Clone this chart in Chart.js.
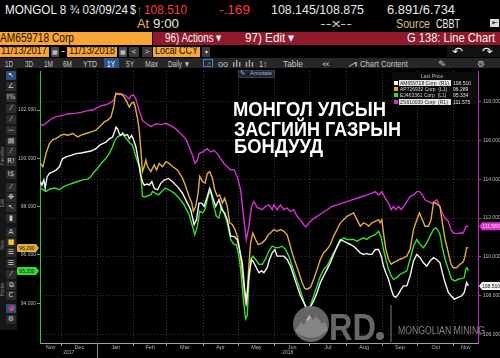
<!DOCTYPE html>
<html><head><meta charset="utf-8">
<script src="https://cdn.jsdelivr.net/npm/chart.js@4.4.1/dist/chart.umd.min.js"></script>
<style>
html,body{margin:0;padding:0;background:#000;width:500px;height:358px;overflow:hidden;font-family:"Liberation Sans",Arial,sans-serif;}
.a{position:absolute;}
.t{position:absolute;white-space:nowrap;line-height:1;transform-origin:0 0;display:inline-block;}
.box{position:absolute;}
.ic{position:absolute;left:6px;width:10px;height:9px;background:#2c2c2c;border-radius:1px;color:#ccc;font-size:7px;line-height:9px;text-align:center;font-family:"DejaVu Sans",sans-serif;overflow:hidden;}
.rot{position:absolute;left:0px;font-size:4.5px;color:#8a8a8a;transform:rotate(-90deg);transform-origin:0 0;white-space:nowrap;}
.lg{position:absolute;font-size:5px;line-height:6px;white-space:nowrap;}
</style></head><body>

<!-- header row 1 -->
<div class="t" style="left:5px;top:3.2px;font-size:13px;color:#f2f2f2" data-w="123">MONGOL 8 ¾ 03/09/24</div>
<div class="t" style="left:130px;top:3.2px;font-size:13px;color:#f2f2f2" data-w="6">$</div>
<div class="t" style="left:137px;top:3.2px;font-size:13px;color:#33d633" data-w="5">↑</div>
<div class="t" style="left:144px;top:3.2px;font-size:13px;color:#ff3b3b" data-w="43">108.510</div>
<div class="t" style="left:219px;top:3.2px;font-size:13px;color:#ff3b3b" data-w="31">-.169</div>
<div class="t" style="left:271px;top:3.2px;font-size:13px;color:#e8e8e8" data-w="93">108.145/108.875</div>
<div class="t" style="left:387px;top:3.2px;font-size:13px;color:#e8e8e8" data-w="68">6.891/6.734</div>
<!-- header row 2 -->
<div class="t" style="left:137px;top:17.7px;font-size:12.5px;color:#e6b45a" data-w="12">At</div>
<div class="t" style="left:153px;top:17.7px;font-size:12.5px;color:#ece6d2" data-w="26">9:00</div>
<div class="t" style="left:320px;top:17.6px;font-size:11px;color:#cfcfcf" data-w="32">--x--</div>
<div class="t" style="left:396px;top:17.7px;font-size:12.5px;color:#d9c07a" data-w="34">Source</div>
<div class="t" style="left:436px;top:17.7px;font-size:12.5px;color:#f0f0f0" data-w="24">CBBT</div>
<div class="box" style="left:490px;top:19px;width:9px;height:8px;background:#dcdcdc;color:#000;font-size:7px;line-height:8px;text-align:center">⇤</div>
<!-- row 3 -->
<div class="box" style="left:0;top:31.5px;width:152px;height:13.5px;background:#f7a535"></div>
<div class="t" style="left:0px;top:31.9px;font-size:12.5px;color:#1a0f00" data-w="74">AM659718 Corp</div>
<div class="box" style="left:153px;top:31.5px;width:347px;height:13.5px;background:#8e1a2c"></div>
<div class="t" style="left:165px;top:31.9px;font-size:12.5px;color:#f5f5f5" data-w="57">96) Actions ▾</div>
<div class="t" style="left:245px;top:31.9px;font-size:12.5px;color:#f5f5f5" data-w="50">97) Edit ▾</div>
<div class="t" style="left:407px;top:31.9px;font-size:12.5px;color:#f5f5f5" data-w="88">G 138: Line Chart</div>
<!-- row 4 -->
<div class="box" style="left:0;top:46.5px;width:49px;height:10px;background:#f7a535"></div>
<div class="t" style="left:1px;top:46.3px;font-size:10.2px;color:#1a0f00" data-w="46">11/13/2017</div>
<div class="box" style="left:51px;top:46.5px;width:8px;height:10px;background:#4a4a4a;color:#ddd;font-size:6px;line-height:10px;text-align:center">▦</div>
<div class="t" style="left:61px;top:46.3px;font-size:10.2px;color:#eee" data-w="4">-</div>
<div class="box" style="left:67px;top:46.5px;width:50px;height:10px;background:#f7a535"></div>
<div class="t" style="left:69px;top:46.3px;font-size:10.2px;color:#1a0f00" data-w="46">11/13/2018</div>
<div class="box" style="left:119px;top:46.5px;width:8px;height:10px;background:#4a4a4a;color:#ddd;font-size:6px;line-height:10px;text-align:center">▦</div>
<div class="box" style="left:129px;top:46.5px;width:10px;height:10px;background:#3a3a3a;color:#ddd;font-size:8px;line-height:10px;text-align:center">&lt;</div>
<div class="box" style="left:142px;top:46.5px;width:10px;height:10px;background:#3a3a3a;color:#ddd;font-size:8px;line-height:10px;text-align:center">&gt;</div>
<div class="box" style="left:153px;top:46.5px;width:47px;height:10px;background:#f7a535"></div>
<div class="t" style="left:155px;top:46.3px;font-size:10.2px;color:#1a0f00" data-w="43">Local CCY</div>
<div class="box" style="left:202px;top:46.5px;width:8px;height:10px;background:#3a3a3a;color:#ddd;font-size:6px;line-height:10px;text-align:center">▾</div>
<div class="box" style="left:447px;top:45.5px;width:53px;height:11px;background:#111"></div>
<div class="t" style="left:452px;top:45.5px;font-size:11px;color:#f0f0f0;font-family:'DejaVu Sans'" data-w="11">↶</div>
<div class="t" style="left:482px;top:45.5px;font-size:11px;color:#f0f0f0;font-family:'DejaVu Sans'" data-w="11">↷</div>
<!-- row 5 toolbar -->
<div class="box" style="left:0;top:57.5px;width:500px;height:10.5px;background:#262626"></div>
<div class="box" style="left:104px;top:58px;width:15px;height:9.5px;background:#27548f"></div>
<div class="t" style="left:5px;top:59.5px;font-size:8.5px;color:#c4c4c4" data-w="8">1D</div>
<div class="t" style="left:25px;top:59.5px;font-size:8.5px;color:#c4c4c4" data-w="8">3D</div>
<div class="t" style="left:44px;top:59.5px;font-size:8.5px;color:#c4c4c4" data-w="9">1M</div>
<div class="t" style="left:63px;top:59.5px;font-size:8.5px;color:#c4c4c4" data-w="9">6M</div>
<div class="t" style="left:83px;top:59.5px;font-size:8.5px;color:#c4c4c4" data-w="14">YTD</div>
<div class="t" style="left:107px;top:59.5px;font-size:8.5px;color:#fff" data-w="8">1Y</div>
<div class="t" style="left:126px;top:59.5px;font-size:8.5px;color:#c4c4c4" data-w="8">5Y</div>
<div class="t" style="left:145px;top:59.5px;font-size:8.5px;color:#c4c4c4" data-w="13">Max</div>
<div class="t" style="left:168px;top:59.5px;font-size:8.5px;color:#c4c4c4" data-w="22">Daily ▼</div>
<div class="box" style="left:203px;top:58.5px;width:10px;height:8px;border:1px solid #4b7fc4;box-sizing:border-box;color:#6fa0e0;font-size:6px;line-height:7px;text-align:center">⩘</div>
<div class="t" style="left:218px;top:59.5px;font-size:8.5px;color:#c4c4c4" data-w="10">oo</div>
<div class="t" style="left:232px;top:59.5px;font-size:8.5px;color:#c4c4c4" data-w="22">ılı ılı</div>
<div class="t" style="left:259px;top:59.5px;font-size:8.5px;color:#c4c4c4" data-w="8">1↕</div>
<div class="t" style="left:283px;top:59.5px;font-size:8.5px;color:#c4c4c4" data-w="20">Table</div>
<div class="t" style="left:322px;top:59.5px;font-size:8.5px;color:#c4c4c4" data-w="8">«</div>
<div class="t" style="left:348px;top:59.5px;font-size:8.5px;color:#c4c4c4" data-w="9">⩘</div>
<div class="t" style="left:360px;top:59.5px;font-size:8.5px;color:#c4c4c4" data-w="48">Chart Content</div>
<div class="t" style="left:438px;top:59.5px;font-size:8.5px;color:#c4c4c4" data-w="9">✎</div>
<div class="t" style="left:477px;top:59.5px;font-size:8.5px;color:#c4c4c4;font-family:'DejaVu Sans'" data-w="8">⚙</div>
<!-- left tool column -->
<div class="box" style="left:0;top:68px;width:17px;height:262px;background:#161616"></div>
<div id="tools"></div>

<!-- chart -->
<div class="a" style="left:15px;top:66px;width:485px;height:292px"><canvas id="c" width="485" height="292"></canvas></div>

<!-- annotate button -->
<div class="box" style="left:238px;top:69.5px;width:37px;height:8px;background:#1c2535;border:1px solid #33425a;box-sizing:border-box"></div>
<div class="t" style="left:240px;top:70.5px;font-size:5.5px;color:#a9b8cc" data-w="5">✎</div>
<div class="t" style="left:250px;top:71px;font-size:5.5px;color:#a9b8cc" data-w="22">Annotate</div>

<!-- title text -->
<div class="t" style="left:233px;top:99px;font-size:20px;font-weight:bold;color:#fff" data-w="153">МОНГОЛ УЛСЫН</div>
<div class="t" style="left:234px;top:118.5px;font-size:20px;font-weight:bold;color:#fff" data-w="167">ЗАСГИЙН ГАЗРЫН</div>
<div class="t" style="left:234px;top:136px;font-size:20px;font-weight:bold;color:#fff" data-w="89">БОНДУУД</div>

<!-- legend -->
<div class="box" style="left:392px;top:72px;width:85px;height:32px;background:#0b0b0b"></div>
<div id="legend"></div>

<!-- watermark -->
<svg class="a" style="left:285px;top:300px;opacity:.93" width="215" height="50" viewBox="285 300 215 50">
 <circle cx="311" cy="324" r="18" fill="#6b6b6b"/>
 <path d="M295 331 L301 322 L304 325 L309 315 L313 320 L316 316 L322 324 L325 322 L328 330 Q311 345 295 331 Z" fill="#8f8f8f"/>
 <path d="M306 320 L309 315 L312 319 L310 318 L308 321 Z" fill="#c0c0c0"/>
 <text x="329" y="340" font-family="Liberation Sans" font-weight="bold" font-size="37" fill="#6f6f6f" textLength="47" lengthAdjust="spacingAndGlyphs">RD</text>
 <circle cx="380" cy="336" r="4" fill="#6f6f6f"/>
 <line x1="391" y1="305" x2="391" y2="342" stroke="#8a8a8a" stroke-width="1"/>
 <text x="398" y="333.5" font-family="Liberation Sans" font-size="10" fill="#8c8c8c" textLength="87" lengthAdjust="spacingAndGlyphs">MONGOLIAN MINING</text>
</svg>

<script>
// ---------------- DATA ----------------
// x = days since 2017-12-01, y = price
const seriesNames = ['AM659718 Corp', 'AP726932 Corp', 'EJ463361 Corp', 'ZS610039 Corp'];
const seriesAxes  = ['R1', 'L1', 'L1', 'R1'];
const lastPrices  = ['108.510', '96.289', '95.334', '111.575'];

const am659718 = [[-17.6,113.87],[-16.4,113.70],[-14.7,113.96],[-13.6,113.53],[-11.9,114.13],[-9.9,114.30],[-7.1,114.38],[-4.3,114.47],[-1.4,114.64],[0,114.89],[1.4,115.06],[4.3,115.15],[8.5,115.23],[12.8,115.32],[17,115.35],[21.3,115.40],[25.5,115.45],[29.8,115.57],[32.6,115.74],[35.4,115.83],[38.3,115.91],[41.1,116.08],[43.9,116.17],[45.9,116.51],[46.8,116.68],[48.2,116.59],[49.6,116.34],[51,116.25],[52.4,116.37],[54.4,116.25],[56.7,116.30],[58.1,116.08],[60.1,116.25],[61.8,116.03],[63.8,115.66],[65.8,114.98],[67.5,114.30],[69.4,113.87],[70.9,113.70],[73.7,113.75],[75.1,113.70],[77.4,113.87],[79.4,113.53],[82.2,113.45],[85,113.79],[87.9,113.96],[91.6,114.04],[95,113.87],[99.2,113.62],[103.5,113.28],[107.7,112.77],[110.5,112.43],[113.4,111.66],[115.4,111.91],[117.6,112.77],[119.9,112.77],[121.9,112.60],[124.7,113.11],[126.7,113.53],[129,113.11],[131.8,112.60],[134.6,112.94],[136.9,112.43],[139.5,112.26],[141.7,111.91],[144.6,111.06],[147.4,111.06],[150.2,110.89],[152.2,110.38],[154.5,109.70],[156.8,108.17],[158.2,107.66],[160.1,109.02],[162.4,109.87],[164.4,109.70],[167.2,109.36],[168.7,109.19],[170.9,109.28],[172.9,109.19],[175.7,109.45],[177.7,109.87],[180,110.21],[182.3,110.38],[184.2,110.04],[187.1,110.04],[189.9,110.04],[192.7,109.87],[195.6,109.53],[198.4,109.02],[201.2,108.51],[204.1,108.00],[206.9,107.66],[209.8,107.32],[212.6,107.41],[215.4,107.75],[218.3,108.17],[221.1,108.68],[223.9,109.02],[226.8,109.36],[229.6,109.70],[232.4,110.13],[235.3,110.55],[238.1,110.89],[240.9,110.81],[243.8,110.72],[246.6,110.64],[249.4,110.55],[252.3,110.38],[255.1,110.21],[257.9,110.13],[260.8,110.18],[262.2,110.13],[265,110.13],[267.9,110.38],[270.7,110.38],[273,110.04],[274.9,109.53],[276.9,109.19],[279.2,108.85],[281.5,108.34],[283.4,108.00],[285.4,107.92],[287.7,108.09],[290,108.34],[292,108.51],[294.8,108.51],[297.6,109.02],[300.5,109.79],[303.3,110.13],[306.1,109.96],[308.9,109.70],[311.8,109.53],[314.6,109.79],[317.5,109.96],[320.3,109.87],[323.1,109.70],[325.1,109.19],[327.4,108.68],[330.2,108.17],[332.5,108.00],[335.3,107.83],[338.7,107.92],[341.6,108.00],[343.8,108.17],[345.8,108.68],[347.3,108.51]];

const ap726932 = [[-17.6,99.79],[-15.6,99.66],[-14.2,99.93],[-12.8,100.21],[-9.9,100.62],[-7.1,100.78],[-4.3,100.82],[0,100.96],[2.8,101.00],[5.7,100.96],[9.9,101.03],[14.2,100.89],[17,100.96],[21.3,101.03],[25.5,101.10],[29.8,101.17],[32.6,101.30],[36.8,101.51],[39.7,101.58],[42.5,101.71],[44.8,102.13],[45.9,102.54],[46.8,102.70],[49.6,102.65],[51,102.67],[53.9,102.54],[56.1,102.33],[58.1,102.13],[60.1,102.29],[61.8,102.33],[62.9,102.19],[65.2,101.65],[66.6,101.17],[68,100.34],[69.4,99.45],[70.9,99.66],[72.3,99.93],[73.7,99.66],[76.5,99.45],[79.4,99.73],[81.4,99.52],[83.6,99.79],[86.5,99.66],[89.3,99.86],[92.1,99.79],[95,99.66],[99.2,99.52],[103.5,99.18],[106.3,98.83],[109.1,98.42],[111.4,98.15],[112.8,97.81],[114.8,98.01],[116.8,98.56],[118.2,99.25],[120.5,99.04],[122.7,98.97],[124.7,99.38],[126.7,99.45],[129,99.18],[131,98.70],[133.2,98.42],[135.2,98.49],[137.5,98.15],[139.5,98.35],[141.7,98.01],[143.7,97.33],[146,97.26],[148.3,97.05],[150.2,96.78],[151.6,96.43],[153.6,95.68],[155.4,94.86],[157.3,94.03],[158.7,94.44],[160.1,95.54],[161.6,96.50],[163.5,96.91],[165.8,96.64],[168.1,96.43],[171.5,96.50],[174.3,96.64],[176.6,96.84],[178.6,96.91],[181.4,97.05],[184.2,96.98],[187.1,97.05],[189.9,96.98],[192.7,96.84],[194.7,96.50],[197,96.09],[199.8,95.68],[202.7,95.27],[205.5,94.86],[207.8,94.61],[209.8,94.58],[212.6,94.65],[215.4,94.99],[218.3,95.40],[221.1,95.82],[223.9,96.09],[226.8,96.23],[229.6,96.43],[232.4,96.78],[235.3,97.05],[238.1,97.33],[240.9,97.46],[243.8,97.60],[246.6,97.67],[249.4,97.74],[252.3,97.46],[255.1,97.19],[257.9,97.33],[260.8,97.26],[262.2,97.19],[265,97.33],[267.9,97.39],[270.7,97.46],[272.1,97.33],[273.5,97.46],[274.9,96.91],[276.9,96.23],[279.2,95.82],[281.5,95.61],[283.4,95.68],[286.3,95.75],[289.1,95.82],[292,95.88],[294.8,95.95],[297.6,96.23],[300.5,97.05],[303.3,97.46],[305.6,97.74],[308.1,97.46],[310.3,97.19],[313.2,97.19],[315.5,97.46],[317.5,98.15],[319.4,98.15],[321.1,98.08],[323.1,98.01],[325.1,97.33],[327.4,96.64],[330.2,96.09],[332.5,95.61],[334.5,95.47],[337.3,95.47],[340.1,95.61],[343,95.71],[344.4,95.95],[345.8,96.30],[347.3,96.29]];

const ej463361 = [[-17.6,98.77],[-15.6,98.70],[-12.8,98.63],[-9.9,98.72],[-5.7,98.77],[-1.4,98.70],[1.4,98.81],[5.7,98.90],[9.9,98.97],[14.2,99.04],[18.4,99.11],[22.7,99.14],[25.5,99.25],[28.3,99.45],[31.2,99.59],[35.4,99.86],[38.3,100.00],[41.1,100.21],[43.9,100.48],[45.9,100.75],[48.2,100.89],[50.5,100.96],[52.4,101.00],[54.4,100.89],[56.7,100.75],[59,100.62],[60.9,100.55],[62.9,100.21],[65.2,99.86],[67.5,99.59],[69.4,98.42],[71.4,98.40],[73.7,98.45],[76.5,98.49],[78,98.63],[80.2,98.56],[83,98.49],[85.9,98.63],[88.7,98.77],[92.1,98.70],[96.4,98.56],[100.6,98.35],[104.9,98.08],[109.1,97.67],[112,97.19],[114,96.84],[116.2,97.19],[118.2,97.81],[120.5,97.74],[122.7,97.87],[125.6,98.49],[127.6,98.63],[129.5,98.15],[132.4,97.60],[134.6,97.53],[136.9,98.01],[138.9,97.74],[141.7,97.33],[144.6,96.64],[147.4,96.43],[149.4,96.43],[151.1,96.09],[153.1,95.40],[155.4,94.17],[157.3,93.35],[158.7,93.48],[160.1,94.86],[161.8,95.82],[163.5,95.95],[165.8,95.82],[168.7,95.61],[171.5,95.61],[174.3,95.82],[177.2,96.16],[180,96.36],[182.8,96.30],[185.7,96.30],[188.5,96.36],[191.3,96.23],[194.2,95.95],[197,95.54],[199.8,95.13],[202.7,94.72],[205.5,94.31],[208.3,93.83],[210.6,93.76],[212.6,93.90],[215.4,94.31],[218.3,94.72],[221.1,95.13],[223.9,95.40],[226.8,95.54],[229.6,95.82],[232.4,96.09],[235.3,96.30],[238.1,96.57],[240.9,96.71],[243.8,96.64],[246.6,96.64],[249.4,96.64],[252.3,96.57],[255.1,96.64],[257.9,96.71],[260.8,96.64],[262.2,96.71],[265,96.78],[267.9,96.84],[270.7,96.98],[273,96.71],[274.9,96.23],[276.9,95.82],[279.2,95.40],[281.5,95.13],[283.4,94.99],[286.3,95.06],[289.1,95.20],[292,95.27],[294.8,95.34],[297.6,95.82],[300.5,96.36],[303.3,96.64],[306.1,96.43],[308.9,96.30],[311.8,96.50],[314.6,96.78],[317.5,97.05],[319.4,97.12],[321.1,97.05],[323.1,96.84],[325.1,96.30],[327.4,95.82],[330.2,95.40],[333,94.99],[335.9,94.92],[338.7,94.99],[341.6,95.02],[343.8,95.06],[345,95.40],[346.1,95.47],[347.3,95.33]];

const zs610039 = [[-17.6,116.85],[-15.6,116.76],[-12.8,116.88],[-8.5,117.10],[-4.3,117.22],[0,117.27],[5.7,117.36],[11.3,117.39],[17,117.44],[22.7,117.53],[26.9,117.56],[31.2,117.70],[34,117.78],[38.3,117.83],[42.5,117.95],[45.4,118.12],[46.8,118.38],[49.6,118.41],[52.4,118.38],[55.3,118.29],[58.1,118.12],[59.5,118.29],[61.8,118.34],[63.8,118.12],[66.6,117.53],[69.4,117.02],[72.3,116.88],[76.5,116.71],[80.8,116.85],[85,116.81],[89.3,116.88],[93.5,116.76],[97.8,116.59],[102,116.34],[106.3,116.08],[109.1,115.66],[112,115.23],[114.2,114.81],[116.2,114.98],[117.6,115.32],[120.5,115.40],[124.7,115.57],[127.6,115.40],[130.4,115.49],[133.2,115.32],[136.1,115.06],[138.9,114.81],[141.7,114.64],[144.6,114.47],[147.4,114.50],[150.2,114.13],[153.1,113.45],[155.9,111.91],[157.9,110.89],[160.1,111.57],[162.4,112.60],[164.4,112.85],[167.2,112.55],[171.5,112.43],[174.3,112.60],[177.2,112.68],[180,112.43],[181.4,112.68],[184.2,112.43],[187.1,112.68],[189.9,112.43],[192.7,112.51],[195.6,112.34],[198.4,112.43],[201.2,112.09],[204.1,111.91],[206.9,111.66],[208.9,111.54],[211.2,111.74],[214,111.91],[218.3,112.09],[222.5,112.26],[226.8,112.43],[231,112.60],[235.3,112.68],[239.5,112.77],[243.8,112.85],[248,112.94],[252.3,113.02],[256.5,113.11],[260.8,113.19],[265,113.28],[267.9,113.36],[270.7,113.19],[273.5,113.36],[276.4,113.02],[279.2,112.77],[281.5,112.43],[283.4,112.60],[285.4,112.43],[287.7,112.60],[290,112.43],[292,112.60],[294.8,112.85],[297.6,113.11],[300.5,113.19],[303.3,113.36],[305.6,113.36],[308.1,113.19],[310.3,112.94],[313.2,112.85],[316,112.77],[318.3,112.85],[320.3,112.94],[321.7,112.77],[324.5,112.34],[327.4,112.00],[330.2,111.83],[332.5,111.40],[334.5,111.23],[337.3,111.20],[340.1,111.23],[343,111.23],[345.2,111.57],[347.3,111.58]];

// axis ticks / labels
const leftTicks  = [94, 96, 98, 100, 102];
const rightTicks = [106, 108, 110, 112, 114, 116, 118];
const monthLabels = ['Nov','Dec','Jan','Feb','Mar','Apr','May','Jun','Jul','Aug','Sep','Oct','Nov'];
const monthStarts = [-30, 0, 31, 62, 90, 121, 151, 182, 212, 243, 274, 304, 335, 365]; // days since 2017-12-01
const yearLabels = ['2017', '2018'];
const yearStarts = [-334, 31, 396];
const xMin = -18, xMax = 355.5;          // 2017-11-13 .. ~2018-11-21
const leftRange  = [92.35, 103.62];
const rightRange = [105.57, 119.57];

// -------------- UI bits --------------
const toolGlyphs = ['↖','∠','I%','⁄','⁄','—','▤','⁄','R!','I$','⁄','✥','↖','▮','A','■','☰','☰','⁄','⧉','C','◕','⚙'];
const toolY = [71,82,93,104,115,126,137,147,157,170,183,193,203,214,228,238,248,259,270,281,291,304,315];
let th = '';
toolGlyphs.forEach((g,i)=>{
  let st = '';
  if (i===0) st='background:#2b4f7e;color:#fff;';
  if (g==='■') st='color:#f2c230;';
  if (g==='◕') st='background:#2b4f7e;color:#e44;';
  th += `<div class="ic" style="top:${toolY[i]}px;${st}">${g}</div>`;
});
[['Favorites',165],['Edit',207],['Style',250],['Modes',296]].forEach(([t,y])=>{ th += `<div class="rot" style="top:${y}px">${t}</div>`; });
document.getElementById('tools').innerHTML = th;

const colors = ['#f5f5f5', '#e2ae3a', '#33dd33', '#d830d8'];
let lh = `<div class="lg" style="left:421px;top:73px;color:#b8b8b8">Last Price</div>`;
const rowY = [79.5, 86, 92.3, 98.6];
seriesNames.forEach((n,i)=>{
  const r1 = seriesAxes[i]==='R1';
  lh += `<div class="box" style="left:394px;top:${rowY[i]+1}px;width:4px;height:4px;background:${colors[i]}"></div>`;
  if (r1) lh += `<div class="box" style="left:399px;top:${rowY[i]}px;width:52px;height:6px;background:#e6e6e6"></div>`;
  lh += `<div class="lg" style="left:400px;top:${rowY[i]}px;color:${r1?'#222':'#d0d0d0'}">${n}&nbsp;&nbsp;(${seriesAxes[i]})</div>`;
  lh += `<div class="lg" style="left:453px;top:${rowY[i]}px;color:#e0e0e0">${lastPrices[i]}</div>`;
});
document.getElementById('legend').innerHTML = lh;

document.querySelectorAll('[data-w]').forEach(el=>{
  const w = el.getBoundingClientRect().width;
  if (w>0) el.style.transform = `scaleX(${(+el.dataset.w / w).toFixed(4)})`;
});

// -------------- CHART --------------
Chart.defaults.font.family = '"Liberation Sans", Arial, sans-serif';
const toXY = arr => arr.map(p => ({x: p[0], y: p[1]}));

function spans(starts, labels){
  const out = [];
  for (let i=0;i<labels.length;i++){
    const a = Math.max(starts[i], xMin), b = Math.min(starts[i+1], xMax);
    if (b > a) out.push({value:(a+b)/2, label:labels[i]});
  }
  return out;
}
const monthTicks = spans(monthStarts, monthLabels);
const yearTicks = spans(yearStarts, yearLabels);

const tagPlugin = {
  id:'tags',
  afterDatasetsDraw(chart){
    const ctx = chart.ctx, area = chart.chartArea;
    chart.data.datasets.forEach((ds,i)=>{
      const v = ds.data[ds.data.length-1].y;
      const y = chart.scales[ds.yAxisID].getPixelForValue(v);
      const h = 8;
      ctx.save();
      ctx.fillStyle = ds.tagBg;
      ctx.beginPath();
      let cx;
      if (ds.yAxisID==='yL'){
        const tip = area.left - 1, l = 2;
        ctx.moveTo(l+1.5, y-h/2); ctx.lineTo(tip-3, y-h/2); ctx.lineTo(tip, y); ctx.lineTo(tip-3, y+h/2); ctx.lineTo(l+1.5, y+h/2);
        ctx.quadraticCurveTo(l, y+h/2, l, y+h/2-1.5); ctx.lineTo(l, y-h/2+1.5); ctx.quadraticCurveTo(l, y-h/2, l+1.5, y-h/2);
        cx = (l + tip - 3)/2 + 0.5;
      } else {
        const tip = area.right + 1, r = chart.width + 2;
        ctx.moveTo(tip, y); ctx.lineTo(tip+3, y-h/2); ctx.lineTo(r, y-h/2); ctx.lineTo(r, y+h/2); ctx.lineTo(tip+3, y+h/2);
        cx = tip + 12;
      }
      ctx.closePath(); ctx.fill();
      ctx.fillStyle = ds.tagText;
      ctx.font = '5px "Liberation Sans", Arial';
      ctx.textAlign = 'center'; ctx.textBaseline = 'middle';
      ctx.fillText(v.toFixed(3), cx, y+0.5);
      ctx.restore();
    });
    // year separator below axis (Jan 1)
    const xs = chart.scales.x.getPixelForValue(monthStarts[2]);
    ctx.save(); ctx.strokeStyle = '#8a8a8a'; ctx.lineWidth = 1;
    ctx.beginPath(); ctx.moveTo(Math.round(xs)+0.5, area.bottom); ctx.lineTo(Math.round(xs)+0.5, chart.height); ctx.stroke();
    ctx.restore();
  }
};

new Chart(document.getElementById('c'), {
  type:'line',
  data:{datasets:[
    {data:toXY(am659718), yAxisID:'yR', borderColor:colors[0], tagBg:'#f2f2f2', tagText:'#111'},
    {data:toXY(ap726932), yAxisID:'yL', borderColor:colors[1], tagBg:'#e2ae3a', tagText:'#111'},
    {data:toXY(ej463361), yAxisID:'yL', borderColor:colors[2], tagBg:'#33dd33', tagText:'#111'},
    {data:toXY(zs610039), yAxisID:'yR', borderColor:colors[3], tagBg:'#d830d8', tagText:'#fde'}
  ]},
  options:{
    responsive:false, animation:false, devicePixelRatio:1,
    layout:{padding:{top:2,left:0,right:0,bottom:0}},
    elements:{line:{borderWidth:1.4, tension:0}, point:{radius:0}},
    plugins:{legend:{display:false}, tooltip:{enabled:false}},
    scales:{
      x:{type:'linear', position:'bottom', min:xMin, max:xMax, weight:0,
         afterBuildTicks:s=>{ s.ticks = monthStarts.filter(v=>v>xMin && v<xMax).map(v=>({value:v})); },
         ticks:{display:false},
         grid:{color:'#3c3c3c', drawTicks:true, tickLength:3, tickColor:'#9a9a9a'},
         border:{color:'#a0a0a0', width:1, dash:[1,2]},
         afterFit:s=>{ s.height = 0; }},
      xm:{type:'linear', position:'bottom', min:xMin, max:xMax, weight:1,
         afterBuildTicks:s=>{ s.ticks = monthTicks.map(t=>({value:t.value})); },
         ticks:{autoSkip:false, maxRotation:0, padding:1, color:'#b5b5b5', font:{size:5.5},
                callback:(v,i)=>monthTicks[i] ? monthTicks[i].label : ''},
         grid:{display:false, drawTicks:false}, border:{display:false},
         afterFit:s=>{ s.height = 7; }},
      xy:{type:'linear', position:'bottom', min:xMin, max:xMax, weight:2,
         afterBuildTicks:s=>{ s.ticks = yearTicks.map(t=>({value:t.value})); },
         ticks:{autoSkip:false, maxRotation:0, padding:0, color:'#b5b5b5', font:{size:5},
                callback:(v,i)=>yearTicks[i] ? yearTicks[i].label : ''},
         grid:{display:false, drawTicks:false}, border:{display:false},
         afterFit:s=>{ s.height = 8; }},
      yL:{type:'linear', position:'left', min:leftRange[0], max:leftRange[1],
         afterBuildTicks:s=>{ s.ticks = leftTicks.map(v=>({value:v})); },
         ticks:{padding:1, color:'#bdbdbd', font:{size:5}, callback:v=>v.toFixed(3)},
         grid:{drawOnChartArea:false, tickLength:3, tickColor:'#33cc33'},
         border:{color:'#33cc33', width:1},
         afterFit:s=>{ s.width = 25; }},
      yR:{type:'linear', position:'right', min:rightRange[0], max:rightRange[1],
         afterBuildTicks:s=>{ s.ticks = rightTicks.map(v=>({value:v})); },
         ticks:{padding:2, color:'#bdbdbd', font:{size:5}, callback:v=>v.toFixed(3)},
         grid:{drawOnChartArea:true, color:'#343434', tickLength:3, tickColor:'#c030c0'},
         border:{color:'#c030c0', width:1, dash:[1,2]},
         afterFit:s=>{ s.width = 22; }}
    }
  },
  plugins:[tagPlugin]
});
</script>
</body></html>
